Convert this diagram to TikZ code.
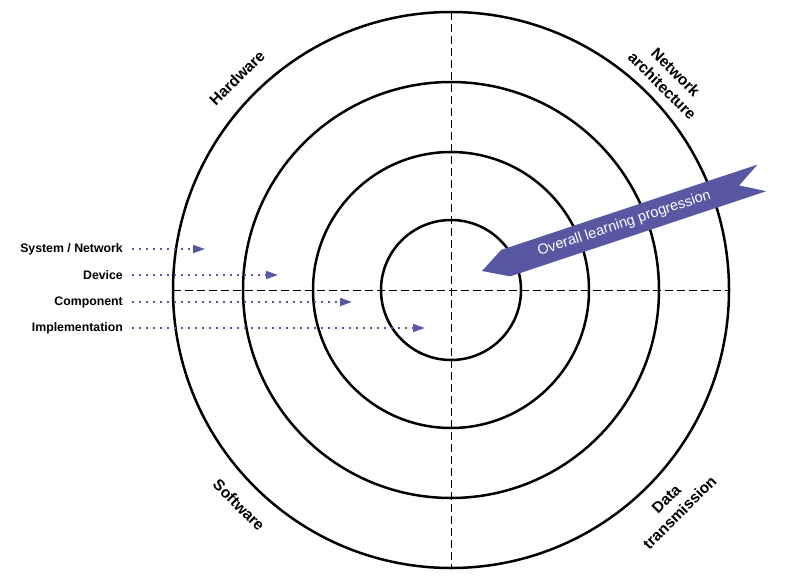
\documentclass[tikz,border=0pt]{standalone}
\usepackage{fontspec}
\setmainfont{Liberation Sans}
\usetikzlibrary{arrows.meta}
\definecolor{progblue}{RGB}{88,88,162}
\tikzset{
    ring/.style={draw, line width=2.5pt},
    axisline/.style={draw, line width=0.8pt, dash pattern=on 8pt off 4pt},
    quadlabel/.style={font=\bfseries\fontsize{15.5}{19}\selectfont, align=center, inner sep=0pt},
    levellabel/.style={font=\bfseries\fontsize{12.3}{14}\selectfont, anchor=east, inner sep=0pt},
    levelarrow/.style={progblue, line width=1.8pt, dash pattern=on 1.8pt off 5.2pt,
        -{Triangle[length=12pt,width=8pt]}}
}
\begin{document}
\begin{tikzpicture}[x=1pt, y=-1pt]
        \useasboundingbox (0,0) rectangle (800,580);
        \coordinate (c) at (451,290);

        % rings
        \draw[ring] (c) circle[radius=278];
        \draw[ring] (c) circle[radius=208];
        \draw[ring] (c) circle[radius=138];
        \draw[ring] (c) circle[radius=70];

        % axes
        \draw[axisline] (173,290) -- (729,290);
        \draw[axisline] (451,12) -- (451,568);

        % quadrant labels
        \node[quadlabel, rotate=45] (hw) at (237,78) {Hardware};
        \node[quadlabel, rotate=-45] (net) at (669,79) {Network\\architecture};
        \node[quadlabel, rotate=-45] (sw) at (239,505) {Software};
        \node[quadlabel, rotate=45] (data) at (673,506) {Data\\transmission};

        % levels
        \node[levellabel] (sys) at (123,249) {System / Network};
        \node[levellabel] (dev) at (123,275) {Device};
        \node[levellabel] (comp) at (123,302) {Component};
        \node[levellabel] (impl) at (123,328) {Implementation};
        \coordinate (sysend) at (205,249);
        \coordinate (devend) at (278,275);
        \coordinate (compend) at (352,302);
        \coordinate (implend) at (425,328);
        \draw[levelarrow] ([xshift=9pt]sys.east) -- (sysend);
        \draw[levelarrow] ([xshift=9pt]dev.east) -- (devend);
        \draw[levelarrow] ([xshift=9pt]comp.east) -- (compend);
        \draw[levelarrow] ([xshift=9pt]impl.east) -- (implend);

        % progression banner
        \begin{scope}[shift={(482,271)}, rotate=18.4]
            \fill[progblue] (0,0) -- (25,-14) -- (295,-14) -- (271,0) -- (295,14) -- (25,14) -- cycle;
            \node[white, font=\fontsize{14.5}{16}\selectfont, transform shape] (prog) at (150,0) {Overall learning progression};
        \end{scope}
    \end{tikzpicture}
\end{document}
